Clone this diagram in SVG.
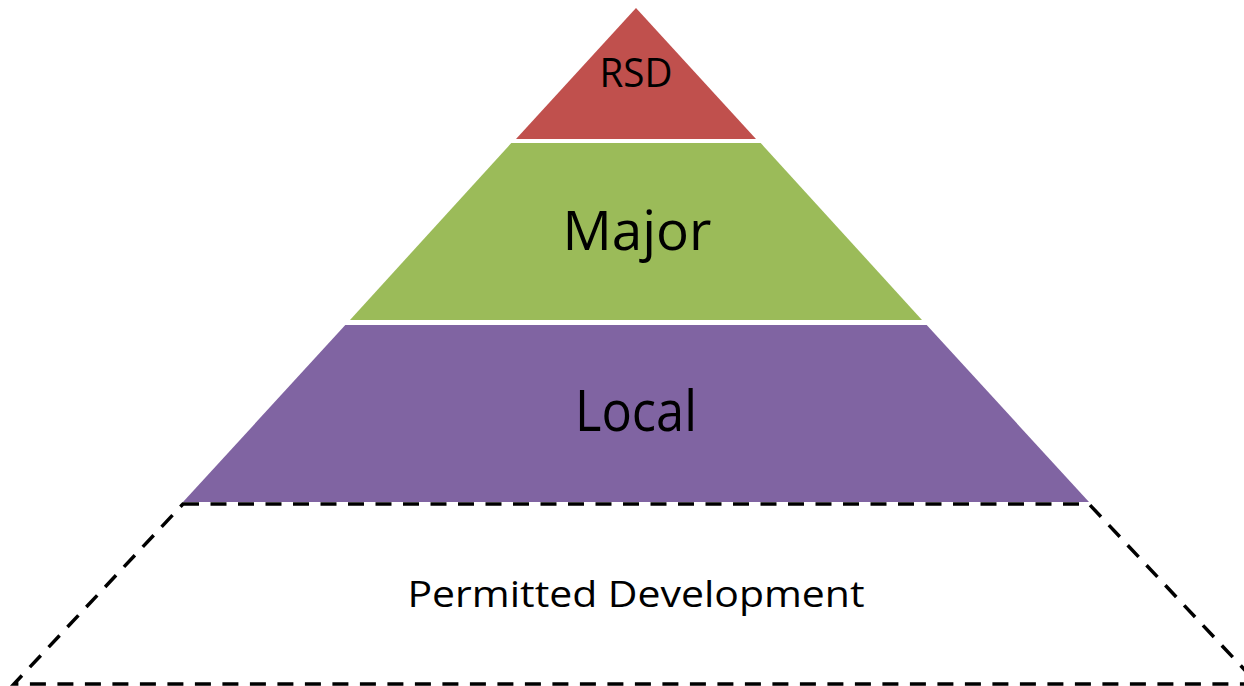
<svg xmlns="http://www.w3.org/2000/svg" width="1244" height="686" viewBox="0 0 1244 686">
  <style>
    .lbl { font-family: "Open Sans", "Noto Sans", "DejaVu Sans", sans-serif; fill: #000; text-anchor: middle; }
    .dash { fill: none; stroke: #000; stroke-width: 3.5; stroke-dasharray: 16 11.5; }
  </style>
  <rect width="1244" height="686" fill="#fff"/>
  <g id="permitted">
    <polygon class="dash" points="183,504 1089,504 1258,684 14,684"/>
    <text class="lbl" x="636" y="607" font-size="37" textLength="457" lengthAdjust="spacingAndGlyphs">Permitted Development</text>
  </g>
  <g id="local">
    <polygon points="345.3,325 926.7,325 1089,502 183,502" fill="#8064A2"/>
    <text class="lbl" x="636" y="431" font-size="56" textLength="122" lengthAdjust="spacingAndGlyphs">Local</text>
  </g>
  <g id="major">
    <polygon points="511.3,143 760.7,143 922,320 350,320" fill="#9BBB59"/>
    <text class="lbl" x="637" y="250" font-size="55" textLength="149" lengthAdjust="spacingAndGlyphs">Major</text>
  </g>
  <g id="rsd">
    <polygon points="636,8 756,139 516,139" fill="#C0504D"/>
    <text class="lbl" x="636" y="87" font-size="40" textLength="73" lengthAdjust="spacingAndGlyphs">RSD</text>
  </g>
</svg>
